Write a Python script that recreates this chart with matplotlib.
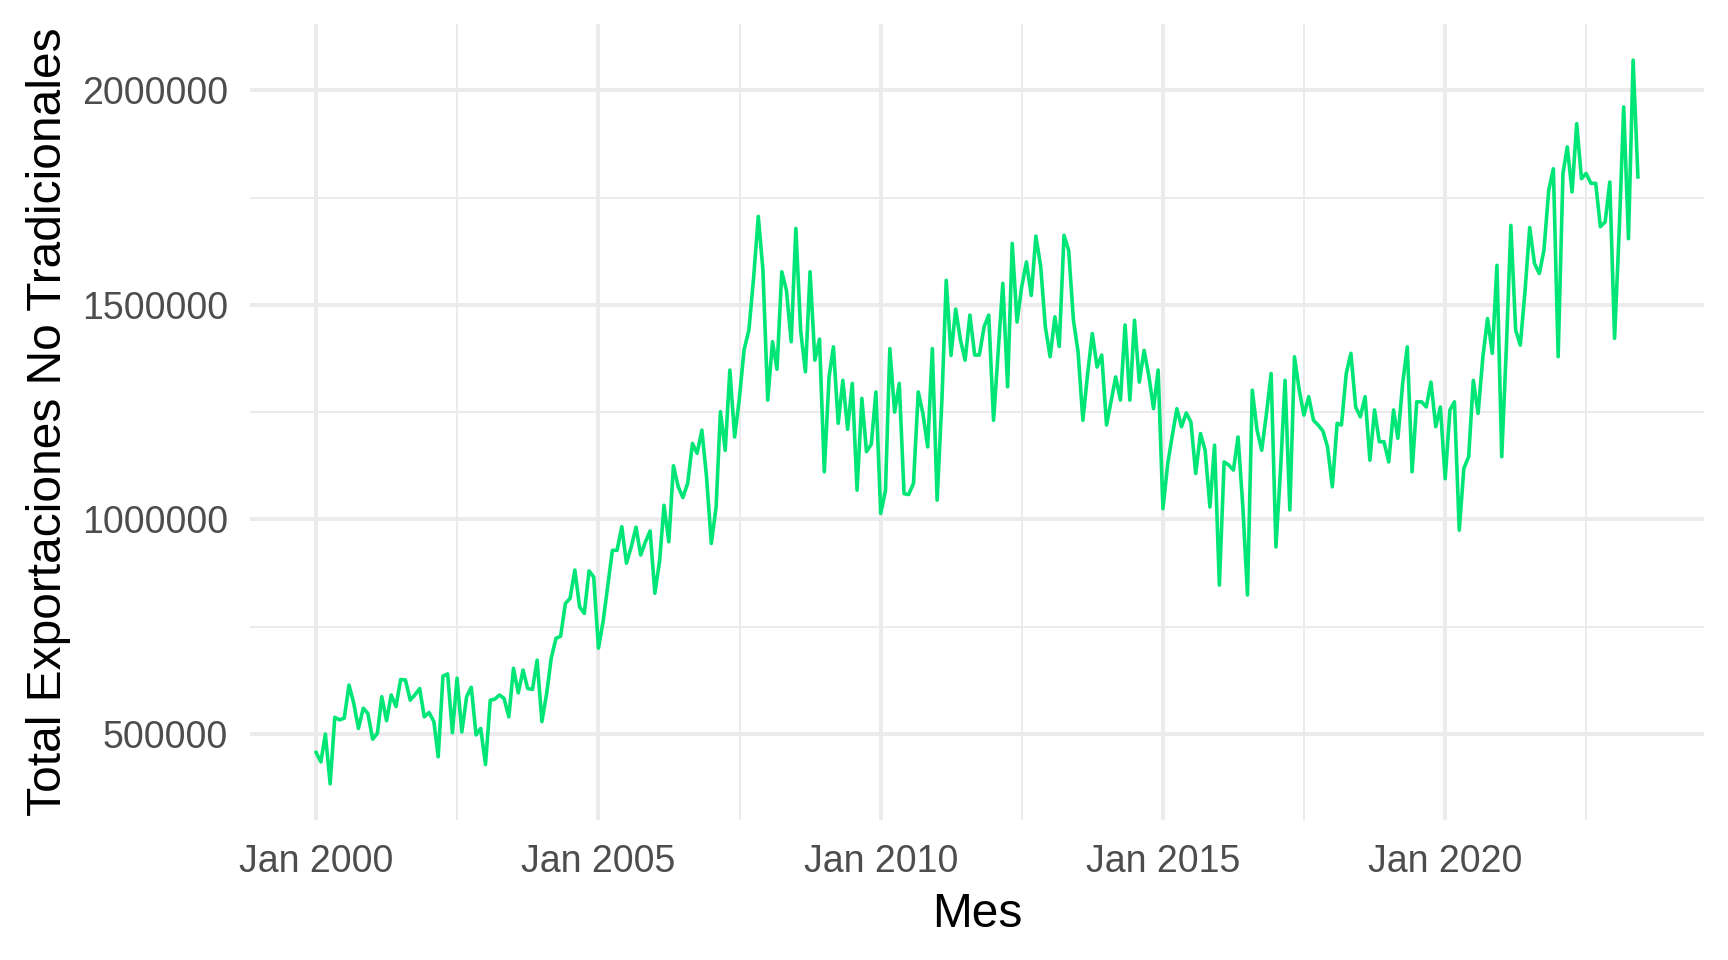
import numpy as np
import pandas as pd
import matplotlib
matplotlib.use("Agg")
import matplotlib.pyplot as plt
import matplotlib.dates as mdates
from matplotlib.ticker import FixedLocator, FuncFormatter

# Exportaciones no tradicionales mensuales (miles)
exp_2000_2004 = [457, 435, 500, 384, 539, 533, 537, 614, 571, 513, 560, 548,
                 488, 502, 587, 531, 591, 564, 627, 626, 579, 591, 606, 540,
                 550, 529, 447, 635, 640, 503, 630, 505, 587, 609, 498, 513,
                 429, 579, 581, 591, 583, 540, 653, 596, 649, 606, 604, 672,
                 529, 595, 676, 723, 728, 804, 816, 882, 796, 781, 880, 866]
exp_2005_2009 = [700, 765, 843, 928, 928, 983, 898, 936, 982, 917, 948, 973,
                 828, 905, 1033, 948, 1125, 1076, 1051, 1084, 1177, 1154, 1208, 1100,
                 944, 1029, 1251, 1161, 1348, 1192, 1280, 1395, 1441, 1560, 1706, 1581,
                 1278, 1414, 1350, 1577, 1534, 1414, 1678, 1440, 1344, 1577, 1371, 1420,
                 1111, 1332, 1402, 1224, 1324, 1210, 1317, 1068, 1282, 1158, 1175, 1297]
exp_2010_2014 = [1014, 1068, 1398, 1250, 1317, 1060, 1058, 1084, 1297, 1247, 1169, 1398,
                 1045, 1278, 1557, 1382, 1490, 1418, 1371, 1476, 1383, 1383, 1449, 1476,
                 1231, 1394, 1550, 1309, 1643, 1460, 1542, 1600, 1522, 1660, 1590, 1449,
                 1379, 1472, 1403, 1662, 1627, 1464, 1390, 1231, 1340, 1433, 1355, 1383,
                 1220, 1278, 1332, 1278, 1453, 1278, 1464, 1320, 1394, 1336, 1258, 1348]
exp_2015_2019 = [1025, 1130, 1192, 1258, 1216, 1248, 1227, 1107, 1200, 1161, 1029, 1173,
                 847, 1134, 1127, 1115, 1192, 1029, 824, 1301, 1208, 1161, 1247, 1340,
                 936, 1123, 1324, 1022, 1379, 1301, 1243, 1286, 1231, 1220, 1206, 1169,
                 1076, 1224, 1220, 1340, 1387, 1262, 1239, 1286, 1138, 1255, 1181, 1181,
                 1134, 1255, 1189, 1317, 1402, 1111, 1274, 1274, 1262, 1320, 1216, 1262]
exp_2020_2023 = [1095, 1255, 1274, 975, 1119, 1146, 1324, 1247, 1379, 1468, 1387, 1592,
                 1146, 1410, 1685, 1441, 1406, 1534, 1680, 1596, 1573, 1627, 1767, 1817,
                 1379, 1806, 1868, 1763, 1922, 1794, 1806, 1783, 1783, 1682, 1693, 1786,
                 1422, 1682, 1961, 1654, 2070, 1798]

inicio = "2000-01-01"
y_breaks = [500000, 1000000, 1500000, 2000000]
y_minor = [750000, 1250000, 1750000]
x_break_years = [2000, 2005, 2010, 2015, 2020]

valores = np.array(exp_2000_2004 + exp_2005_2009 + exp_2010_2014
                   + exp_2015_2019 + exp_2020_2023) * 1000
meses = pd.date_range(inicio, periods=len(valores), freq="MS")
df = pd.DataFrame({"Mes": meses, "Total": valores})

plt.rcParams["font.family"] = ["Liberation Sans", "DejaVu Sans"]

fig = plt.figure(figsize=(17.28, 9.6), dpi=100)
ax = fig.add_axes([250 / 1728, 140 / 960, 1454 / 1728, 796 / 960])

ax.plot(df["Mes"], df["Total"], color="#00E676", linewidth=2.6, zorder=3)

# escalas con expansión del 5% como ggplot
xn = mdates.date2num(df["Mes"])
xr = xn.max() - xn.min()
ax.set_xlim(xn.min() - 0.05 * xr, xn.max() + 0.05 * xr)
yr = valores.max() - valores.min()
ax.set_ylim(valores.min() - 0.05 * yr, valores.max() + 0.05 * yr)

x_major = [mdates.date2num(pd.Timestamp(f"{a}-01-01")) for a in x_break_years]
x_minor = [(x_major[i] + x_major[i + 1]) / 2 for i in range(len(x_major) - 1)]
x_minor.append(x_major[-1] + (x_major[1] - x_major[0]) / 2)
ax.xaxis.set_major_locator(FixedLocator(x_major))
ax.xaxis.set_minor_locator(FixedLocator(x_minor))
ax.xaxis.set_major_formatter(FuncFormatter(lambda v, p: mdates.num2date(v).strftime("%b %Y")))
ax.yaxis.set_major_locator(FixedLocator(y_breaks))
ax.yaxis.set_minor_locator(FixedLocator(y_minor))
ax.yaxis.set_major_formatter(FuncFormatter(lambda v, p: f"{int(v)}"))

ax.grid(which="major", color="#EBEBEB", linewidth=2.8, zorder=0)
ax.grid(which="minor", color="#EBEBEB", linewidth=1.4, zorder=0)
ax.set_axisbelow(True)
for s in ax.spines.values():
    s.set_visible(False)
ax.tick_params(which="both", length=0)
ax.tick_params(axis="x", labelsize=27, labelcolor="#4D4D4D", pad=17)
ax.tick_params(axis="y", labelsize=27, labelcolor="#4D4D4D", pad=16)

ax.set_xlabel("Mes", fontsize=34.5, color="black", labelpad=9)
ax.set_ylabel("Total Exportaciones No Tradicionales", fontsize=34.5, color="black", labelpad=8)

fig.savefig("out.png", dpi=100, facecolor="white")
